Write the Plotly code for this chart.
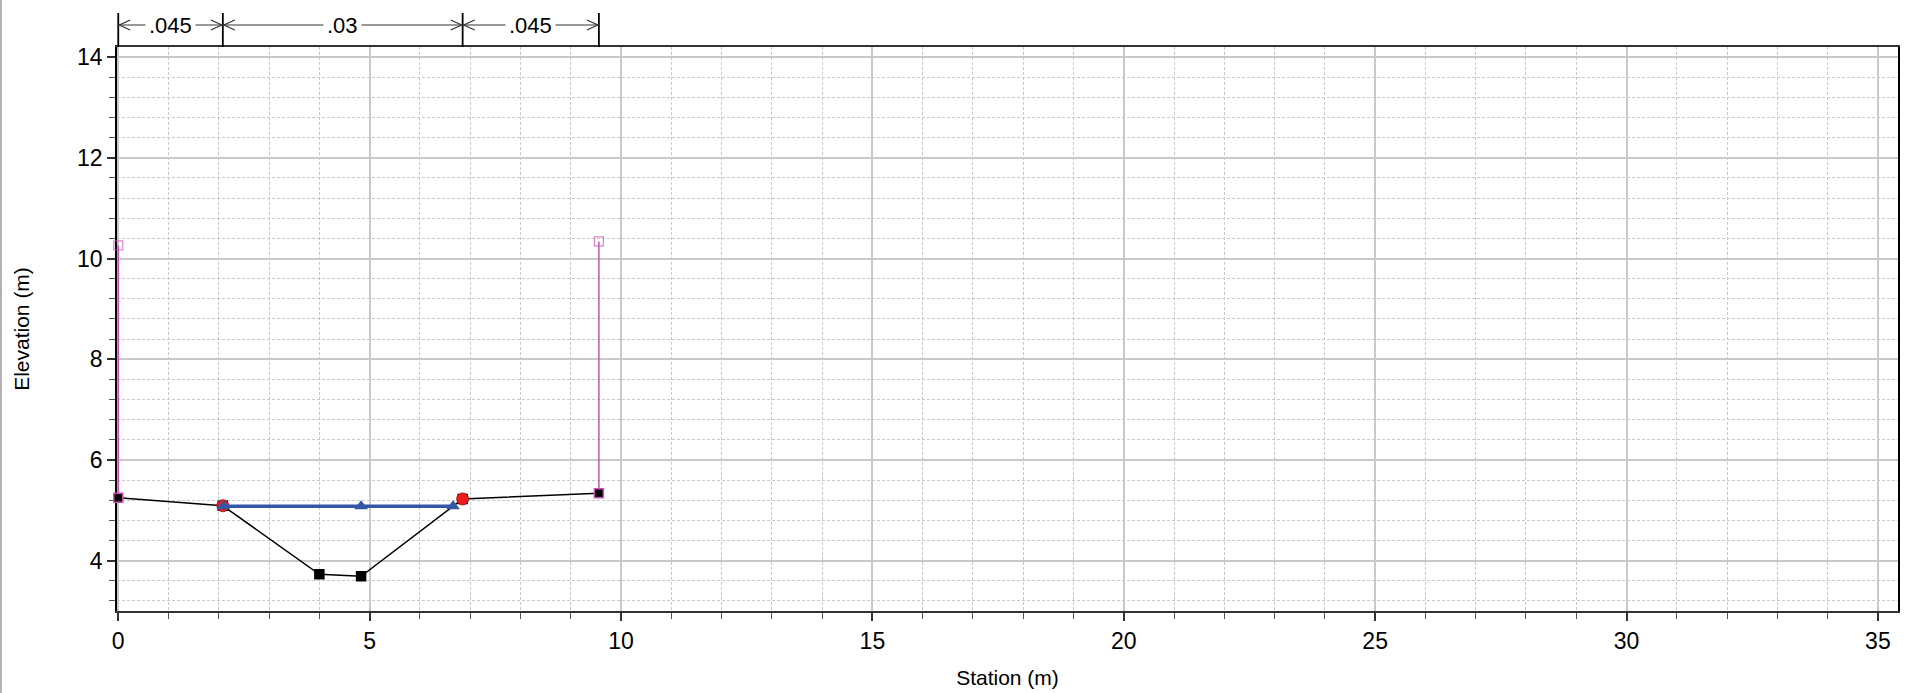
import plotly.graph_objects as go

# ---- data ----
ground_station = [0.0, 2.08, 4.0, 4.83, 6.85, 9.56]
ground_elev = [5.25, 5.09, 3.73, 3.69, 5.225, 5.34]

bank_station = [2.08, 6.85]
bank_elev = [5.09, 5.225]

ws_station = [2.09, 4.83, 6.66]
ws_elev = [5.08, 5.08, 5.08]

levee_left_station = [0.0, 0.0]
levee_left_elev = [5.25, 10.26]
levee_right_station = [9.56, 9.56]
levee_right_elev = [5.34, 10.34]

n_break_station = [0.0, 2.08, 6.85, 9.56]
n_values = [".045", ".03", ".045"]

x_ticks = [0, 5, 10, 15, 20, 25, 30, 35]
y_ticks = [4, 6, 8, 10, 12, 14]

FONT = "Liberation Sans, Arial, sans-serif"
PINK = "#c853b5"
GRID = "#c9c9c9"

W, H = 1906, 693
ML, MR, MT, MB = 117, 8, 47, 82
plot_h = H - MT - MB

fig = go.Figure()

# levee / wall lines
for xs, ys in [(levee_left_station, levee_left_elev), (levee_right_station, levee_right_elev)]:
    fig.add_trace(go.Scatter(
        x=xs, y=ys, mode="lines+markers",
        line=dict(color=PINK, width=1.5),
        marker=dict(symbol=["square", "square-open"], size=[0, 9], color=PINK,
                    line=dict(color=PINK, width=1.2)),
        showlegend=False, hoverinfo="skip", cliponaxis=False))

# ground line
end_border = [PINK if i in (0, len(ground_station) - 1) else "#000000" for i in range(len(ground_station))]
fig.add_trace(go.Scatter(
    x=ground_station, y=ground_elev, mode="lines+markers",
    line=dict(color="#000000", width=1.5),
    marker=dict(symbol="square", size=9, color="#000000",
                line=dict(color=end_border, width=1.5)),
    showlegend=False, hoverinfo="skip", cliponaxis=False))

# bank stations
fig.add_trace(go.Scatter(
    x=bank_station, y=bank_elev, mode="markers",
    marker=dict(symbol="circle", size=12, color="#ee1c1c",
                line=dict(color="#8a1010", width=0.8)),
    showlegend=False, hoverinfo="skip"))

# water surface
fig.add_trace(go.Scatter(
    x=ws_station, y=ws_elev, mode="lines+markers",
    line=dict(color="#3456a6", width=3.5),
    marker=dict(symbol="triangle-up", size=12, color="#3456a6"),
    showlegend=False, hoverinfo="skip"))

# ---- Manning's n annotation above the plot ----
def py(pix):
    """pixel y (from top of image) -> paper y"""
    return 1 + (MT - pix) / plot_h

y_arrow = py(25)
y_vtop = py(13)

shapes = []
for s in n_break_station:
    shapes.append(dict(type="line", xref="x", yref="paper", x0=s, x1=s, y0=1, y1=y_vtop,
                       line=dict(color="#000000", width=1.8)))
annotations = []
for i, label in enumerate(n_values):
    a, b = n_break_station[i], n_break_station[i + 1]
    shapes.append(dict(type="line", xref="x", yref="paper", x0=a, x1=b, y0=y_arrow, y1=y_arrow,
                       line=dict(color="#333333", width=1)))
    # arrowheads (open chevrons)
    shapes.append(dict(type="path", xref="x", yref="paper", xsizemode="pixel", ysizemode="pixel",
                       xanchor=a, yanchor=y_arrow, path="M 12,5 L 1,0 L 12,-5",
                       line=dict(color="#333333", width=1.2)))
    shapes.append(dict(type="path", xref="x", yref="paper", xsizemode="pixel", ysizemode="pixel",
                       xanchor=b, yanchor=y_arrow, path="M -12,5 L -1,0 L -12,-5",
                       line=dict(color="#333333", width=1.2)))
    annotations.append(dict(x=(a + b) / 2, y=y_arrow, xref="x", yref="paper", text=label,
                            showarrow=False, bgcolor="#ffffff", borderpad=3,
                            font=dict(family=FONT, size=22, color="#000000"),
                            xanchor="center", yanchor="middle"))

# gray frame line at far left of picture
shapes.append(dict(type="line", xref="paper", yref="paper",
                   x0=-(ML - 1) / (W - ML - MR), x1=-(ML - 1) / (W - ML - MR),
                   y0=-MB / plot_h, y1=1 + MT / plot_h,
                   line=dict(color="#9a9a9a", width=1.5)))

fig.update_layout(
    width=W, height=H, autosize=False,
    margin=dict(l=ML, r=MR, t=MT, b=MB, pad=0, autoexpand=False),
    paper_bgcolor="#ffffff", plot_bgcolor="#ffffff",
    font=dict(family=FONT, size=22, color="#000000"),
    shapes=shapes, annotations=annotations,
    showlegend=False,
)

fig.update_xaxes(
    range=[-0.025, 35.4], tickmode="array", tickvals=x_ticks, automargin=False,
    layer="below traces",
    ticks="outside", ticklen=8, tickwidth=1.5, tickcolor="#333333",
    showline=True, linecolor="#333333", linewidth=2, mirror=True,
    showgrid=True, gridcolor=GRID, gridwidth=1.5, zeroline=False,
    minor=dict(dtick=1, tick0=0, ticks="outside", ticklen=6, tickwidth=1.2, tickcolor="#555555",
               showgrid=True, gridcolor=GRID, gridwidth=1, griddash="3px,2px"),
    tickfont=dict(family=FONT, size=23),
    title=dict(text="Station (m)", font=dict(family=FONT, size=21), standoff=18),
)
fig.update_yaxes(
    range=[3, 14.2], tickmode="array", tickvals=y_ticks, automargin=False,
    layer="below traces",
    ticks="outside", ticklen=8, tickwidth=1.5, tickcolor="#333333",
    showline=True, linecolor="#000000", linewidth=1.5, mirror=True,
    showgrid=True, gridcolor=GRID, gridwidth=1.5, zeroline=False,
    minor=dict(dtick=0.4, tick0=0, ticks="outside", ticklen=6, tickwidth=1.2, tickcolor="#555555",
               showgrid=True, gridcolor=GRID, gridwidth=1, griddash="3px,2px"),
    tickfont=dict(family=FONT, size=23),
    title=dict(text="Elevation (m)", font=dict(family=FONT, size=21), standoff=42),
)

fig.write_html("out.html", config={"displayModeBar": False},
               post_script="document.body.style.margin='0px';")
